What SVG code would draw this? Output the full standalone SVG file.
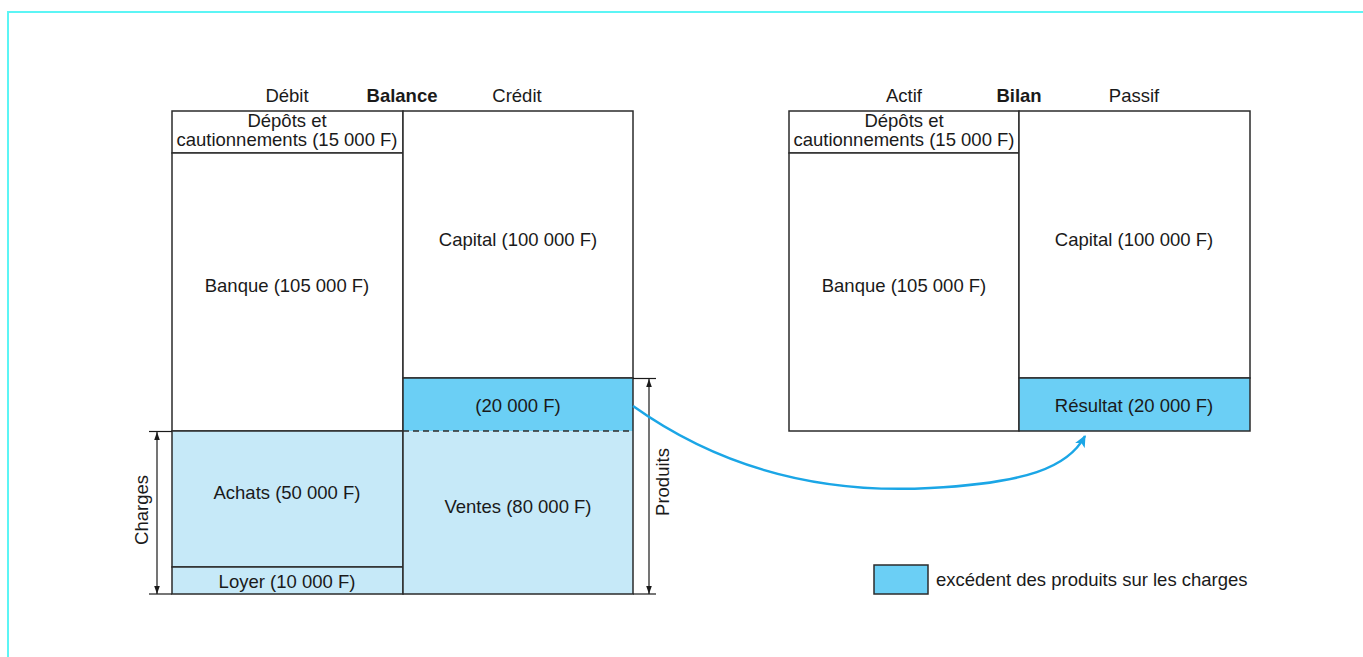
<svg xmlns="http://www.w3.org/2000/svg" width="1363" height="657" viewBox="0 0 1363 657">
<style>
text{font-family:"Liberation Sans",Arial,sans-serif;font-size:18.5px;fill:#1a1a1a;text-anchor:middle}
.b{font-weight:bold}
.box{stroke:#2b2b2b;stroke-width:1.5}
.w{fill:#fff}
.dk{fill:#6bcff5}
.lt{fill:#c6e9f8}
.dim{stroke:#1a1a1a;stroke-width:1.2;fill:none}
</style>
<defs>
<marker id="ah" viewBox="0 0 10 10" refX="10" refY="5" markerWidth="8" markerHeight="8" markerUnits="userSpaceOnUse" orient="auto-start-reverse"><path d="M0,1.5 L10,5 L0,8.5 Z" fill="#1a1a1a"/></marker>
<marker id="bh" viewBox="0 0 10 10" refX="9" refY="5" markerWidth="12" markerHeight="12" markerUnits="userSpaceOnUse" orient="auto"><path d="M0,0.5 L10,5 L0,9.5 L2.5,5 Z" fill="#1ba6e6"/></marker>
</defs>
<rect width="1363" height="657" fill="#fff"/>
<path d="M8,657 V12 H1363" fill="none" stroke="#5cf5f5" stroke-width="2"/>

<g id="balance-headers">
<text x="287" y="102">Débit</text>
<text x="402" y="102" class="b">Balance</text>
<text x="517" y="102">Crédit</text>
</g>
<g id="bal-depots"><rect class="box w" x="172" y="111" width="231" height="42"/><text x="287" y="127">Dépôts et</text><text x="287" y="146">cautionnements (15 000 F)</text></g>
<g id="bal-banque"><rect class="box w" x="172" y="153" width="231" height="278"/><text x="287" y="292">Banque (105 000 F)</text></g>
<g id="bal-achats"><rect class="box lt" x="172" y="431" width="231" height="136"/><text x="287" y="499">Achats (50 000 F)</text></g>
<g id="bal-loyer"><rect class="box lt" x="172" y="567" width="231" height="27"/><text x="287" y="588">Loyer (10 000 F)</text></g>
<g id="bal-capital"><rect class="box w" x="403" y="111" width="230" height="267"/><text x="518" y="246">Capital (100 000 F)</text></g>
<g id="bal-ventes"><rect class="lt" x="403" y="431" width="230" height="163"/><path d="M403,431 V594 H633 V431" fill="none" stroke="#2b2b2b" stroke-width="1.5"/><text x="518" y="513">Ventes (80 000 F)</text></g>
<g id="bal-excedent"><path class="dk" d="M403,431 V378 H633 V431 Z"/><path d="M403,431 V378 H633 V431" fill="none" stroke="#2b2b2b" stroke-width="1.5"/><line x1="403" y1="431" x2="633" y2="431" stroke="#2b2b2b" stroke-width="1.5" stroke-dasharray="6,4"/><text x="518" y="412">(20 000 F)</text></g>

<g id="charges-dim">
<line class="dim" x1="149" y1="431.5" x2="172" y2="431.5"/>
<line class="dim" x1="149" y1="594" x2="172" y2="594"/>
<line class="dim" x1="157" y1="432" x2="157" y2="594" marker-start="url(#ah)" marker-end="url(#ah)"/>
<text transform="translate(148,510) rotate(-90)">Charges</text>
</g>
<g id="produits-dim">
<line class="dim" x1="633" y1="378.5" x2="656" y2="378.5"/>
<line class="dim" x1="633" y1="594" x2="656" y2="594"/>
<line class="dim" x1="649" y1="379" x2="649" y2="594" marker-start="url(#ah)" marker-end="url(#ah)"/>
<text transform="translate(669,482) rotate(-90)">Produits</text>
</g>

<g id="bilan-headers">
<text x="904" y="102">Actif</text>
<text x="1019" y="102" class="b">Bilan</text>
<text x="1134" y="102">Passif</text>
</g>
<g id="bil-depots"><rect class="box w" x="789" y="111" width="230" height="42"/><text x="904" y="127">Dépôts et</text><text x="904" y="146">cautionnements (15 000 F)</text></g>
<g id="bil-banque"><rect class="box w" x="789" y="153" width="230" height="278"/><text x="904" y="292">Banque (105 000 F)</text></g>
<g id="bil-capital"><rect class="box w" x="1019" y="111" width="231" height="267"/><text x="1134" y="246">Capital (100 000 F)</text></g>
<g id="bil-resultat"><rect class="box dk" x="1019" y="378" width="231" height="53"/><text x="1134" y="412">Résultat (20 000 F)</text></g>

<g id="connectors">
<path d="M633,406 C720,468 820,494 930,488 C1025,483 1068,468 1085,436" fill="none" stroke="#1ba6e6" stroke-width="2.5" marker-end="url(#bh)"/>
</g>

<g id="legend">
<rect class="box dk" x="874" y="565" width="54" height="29"/>
<text x="936" y="586" style="text-anchor:start">excédent des produits sur les charges</text>
</g>
</svg>
